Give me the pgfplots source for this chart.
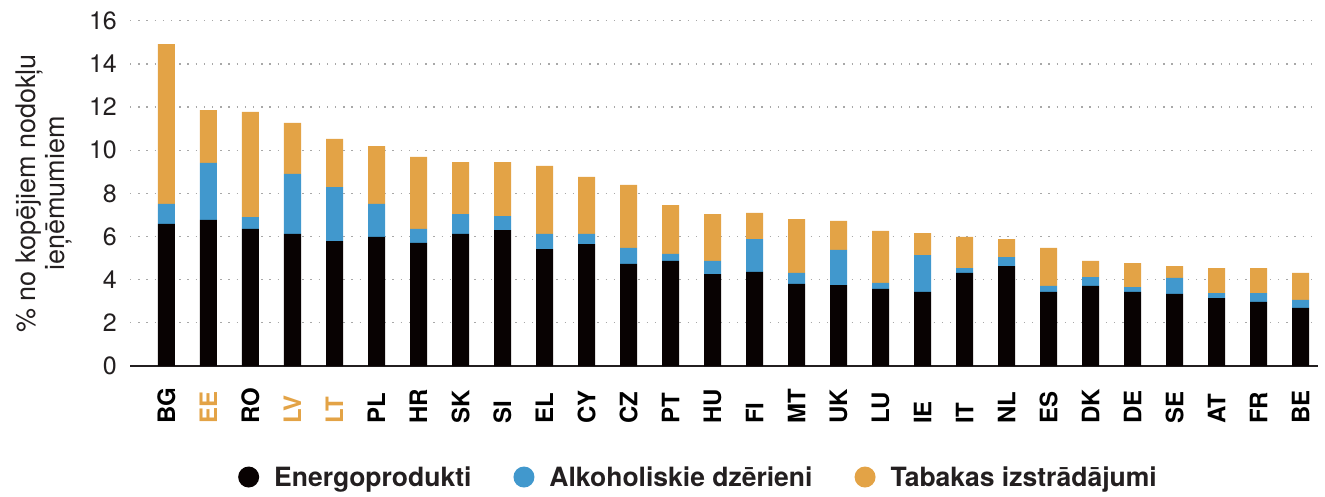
\documentclass[border=0pt]{standalone}
\usepackage{pgfplots}
\pgfplotsset{compat=1.18}
\usepackage{pgfplotstable}
\usepackage{fontspec}
\setmainfont{TeX Gyre Heros}
\definecolor{blkC}{HTML}{080202}
\definecolor{bluC}{HTML}{4198CD}
\definecolor{orgC}{HTML}{E3A346}
\definecolor{txtC}{HTML}{231F20}
\definecolor{gridC}{HTML}{A8A8A8}

\pgfplotstableread{
x e a t
0 6.58 0.93 7.41
1 6.77 2.64 2.45
2 6.35 0.55 4.87
3 6.12 2.78 2.36
4 5.79 2.50 2.23
5 5.98 1.53 2.68
6 5.70 0.65 3.34
7 6.12 0.92 2.41
8 6.30 0.65 2.50
9 5.42 0.70 3.15
10 5.65 0.47 2.64
11 4.73 0.74 2.92
12 4.87 0.32 2.27
13 4.26 0.61 2.17
14 4.36 1.52 1.21
15 3.80 0.51 2.50
16 3.75 1.63 1.34
17 3.57 0.28 2.41
18 3.43 1.71 1.02
19 4.31 0.23 1.44
20 4.63 0.42 0.83
21 3.43 0.28 1.76
22 3.71 0.41 0.75
23 3.43 0.23 1.11
24 3.34 0.74 0.55
25 3.15 0.23 1.16
26 2.97 0.41 1.16
27 2.69 0.37 1.25
}\data

\begin{document}
\begin{tikzpicture}
\useasboundingbox (0,0) rectangle (1325pt,496pt);
\begin{axis}[
  at={(130pt,130pt)}, anchor=south west,
  scale only axis, width=1188pt, height=345.3pt,
  ybar stacked, bar width=17pt,
  xmin=-0.869, xmax=27.417, ymin=0, ymax=16,
  ytick={0,2,...,16},
  xtick={0,1,...,27},
  xticklabels={BG,\textcolor{orgC}{EE},RO,\textcolor{orgC}{LV},\textcolor{orgC}{LT},PL,HR,SK,SI,EL,CY,CZ,PT,HU,FI,MT,UK,LU,IE,IT,NL,ES,DK,DE,SE,AT,FR,BE},
  axis lines*=left,
  y axis line style={draw=none},
  x axis line style={line width=2.7pt, color=txtC},
  major tick length=0pt,
  tick style={draw=none},
  ymajorgrids,
  major grid style={gridC, line width=1.3pt, dash pattern=on 1.3pt off 6.9pt},
  /pgf/number format/assume math mode=true,
  yticklabel style={font=\fontsize{25}{25}\selectfont, color=txtC, inner sep=0pt, anchor=east, xshift=-13pt},
  xticklabel style={font=\bfseries\fontsize{24}{24}\selectfont, rotate=90, anchor=west, inner sep=0pt, color=black},
  xticklabel shift=58pt,
  ylabel={\% no kopējiem nodokļu\\ieņēmumiem},
  every axis y label/.style={at={(axis description cs:-0.0488,0.5)}, rotate=90, anchor=south, align=center, inner sep=0pt, font=\fontsize{27}{29}\selectfont, color=txtC},
  legend style={at={(0.4785,-0.3215)}, anchor=center, draw=none, fill=none,
    font=\bfseries\fontsize{26.5}{26.5}\selectfont, text=txtC,
    column sep=0pt, cells={inner xsep=0pt},
    /tikz/every even column/.append style={column sep=40pt}},
  legend columns=3,
  legend cell align=left,
]
\addplot[fill=blkC, draw=none, legend image code/.code={\fill[blkC] (10.5pt,0pt) circle (10.5pt);\path (0pt,0pt) (34pt,0pt);}] table[x=x,y=e]{\data};
\addlegendentry{Energoprodukti}
\addplot[fill=bluC, draw=none, legend image code/.code={\fill[bluC] (10.5pt,0pt) circle (10.5pt);\path (0pt,0pt) (34pt,0pt);}] table[x=x,y=a]{\data};
\addlegendentry{Alkoholiskie dzērieni}
\addplot[fill=orgC, draw=none, legend image code/.code={\fill[orgC] (10.5pt,0pt) circle (10.5pt);\path (0pt,0pt) (34pt,0pt);}] table[x=x,y=t]{\data};
\addlegendentry{Tabakas izstrādājumi}
\end{axis}
\end{tikzpicture}
\end{document}
